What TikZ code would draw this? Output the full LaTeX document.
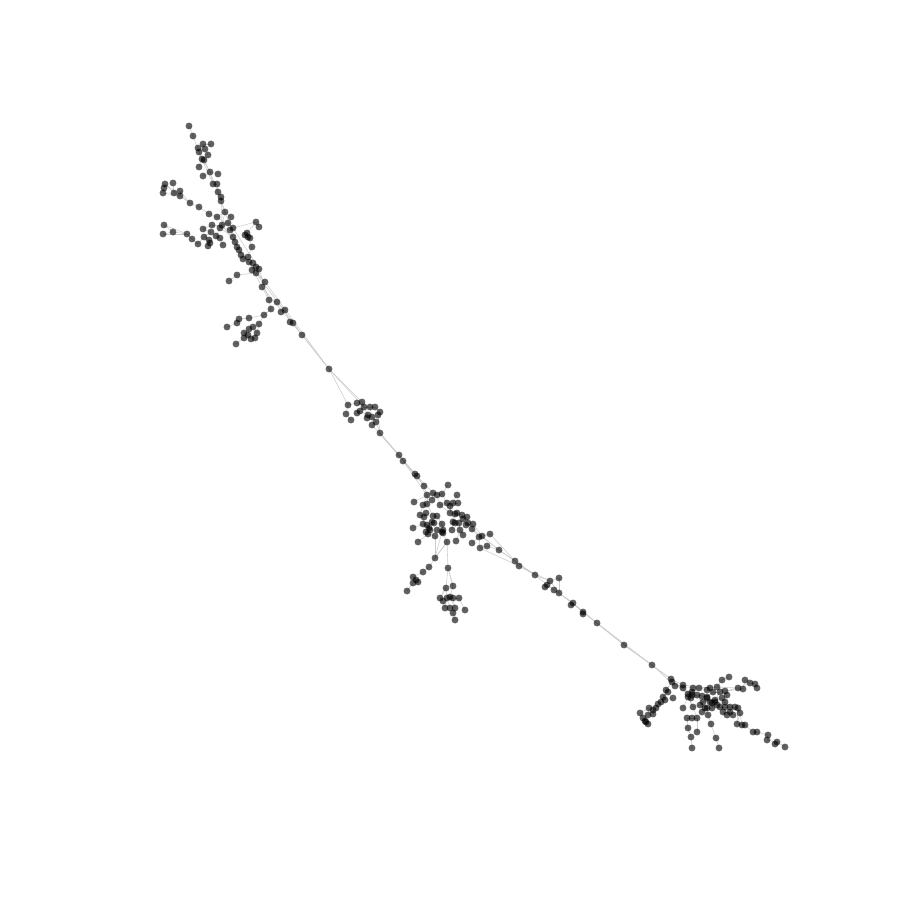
\documentclass[tikz,border=0pt]{standalone}
\tikzset{
  dot/.style={circle,inner sep=0pt,minimum size=6.9pt,fill=black,fill opacity=0.62,draw=none},
  edge/.style={draw=black!20,line width=0.55pt}
}
\def\nodelist{
189/126/t1/t1, 193/136/t2/t1, 199/152/t3/t2, 198/148/t4/t3, 203/144/t5/t3, 211/144/t6/t5,
205/149/t7/t3, 208/155/t8/t7, 202/159/t9/t3, 204/160/t10/t9, 199/167/t11/t9, 210/172/t12/t10,
218/174/t13/t12, 203/176/t14/t12, 213/184/t15/t12, 217/184/t16/t15, 218/192/t17/t16,
221/197/t18/t17, 221/201/t19/t18, 225/212/t20/t19, 217/217/t21/t20, 231/217/t22/t20,
222/225/t23/t20, 228/223/t24/t23, 233/228/t25/t24, 230/230/t26/t25, 233/237/t27/t26,
235/242/t28/t27, 237/247/t29/t28, 239/250/t30/t29, 241/255/t31/t30, 243/259/t32/t31,
249/262/t33/t32, 253/263/t34/t33, 256/267/t35/t34, 259/269/t36/t35, 252/270/t37/t35,
256/273/t38/t36, 265/282/t39/t38, 262/287/t40/t39, 248/257/t41/t32, 252/247/t42/t41,
248/237/t43/t42, 247/233/t44/t43, 245/235/t45/t43, 250/238/t46/t43, 256/222/t47/t44,
259/227/t48/t47,
209/214/t49/t21, 199/207/t50/t49, 190/203/t51/t50, 180/196/t52/t51, 180/191/t53/t52,
174/193/t54/t52, 173/183/t55/t54, 165/184/t56/t54, 164/188/t57/t56, 163/193/t58/t57,
212/225/t59/t23, 220/228/t60/t23, 203/229/t61/t59, 211/232/t62/t61, 204/237/t63/t62,
209/240/t64/t63, 210/243/t65/t64, 208/246/t66/t65, 198/244/t67/t63, 192/239/t68/t67,
187/234/t69/t68, 173/232/t70/t69, 164/225/t71/t70, 163/234/t72/t70, 216/236/t73/t60,
220/238/t74/t73, 223/245/t75/t74, 237/275/t76/t38, 229/281/t77/t76,
269/300/u2/t40, 277/302/u3/u2, 271/309/u4/u2, 281/312/u5/u3, 285/310/u6/u5,
264/315/u7/u4, 249/318/u8/u7, 239/319/u9/u8, 237/323/u10/u9, 227/327/u11/u10,
259/324/u12/u7, 253/327/u13/u12, 249/329/u14/u13, 244/333/u15/u14, 257/333/u16/u13,
248/335/u17/u14, 255/338/u18/u16, 244/338/u19/u17, 251/339/u20/u17, 236/344/u21/u19,
290/322/u22/u6, 293/323/u23/u22, 302/335/u24/u23, 329/369/m0/u24,
364/407/m1/m0, 357/403/m2/m1, 362/402/m3/m1, 348/405/m4/m2, 346/414/m5/m4,
351/420/m6/m5, 357/413/m7/m1, 360/411/m8/m7, 370/407/m9/m1, 375/407/m10/m9,
368/415/m11/m8, 367/418/m12/m11, 372/417/m13/m11, 380/412/m14/m10, 378/415/m15/m14,
376/422/m16/m13, 372/425/m17/m16, 380/433/m18/m16, 399/455/m19/m18, 403/461/m20/m19,
415/474/m21/m20, 417/476/m22/m21, 424/486/m23/m22,
427/495/c2/m23, 433/493/c3/c2, 437/495/c4/c3, 442/494/c5/c4, 448/485/c6/c5,
414/502/c7/c2, 423/505/c8/c2, 427/504/c9/c8, 440/505/c10/c4, 447/503/c11/c10,
450/506/c12/c11, 453/503/c13/c12, 457/495/c14/c13, 458/503/c15/c13, 420/515/c16/c8,
424/517/c17/c16, 426/513/c18/c17, 433/516/c19/c9, 437/516/c20/c19, 450/513/c21/c12,
455/514/c22/c21, 457/513/c23/c22, 462/515/c24/c23, 423/524/c25/c17, 427/525/c26/c25,
432/522/c27/c26, 434/523/c28/c27, 442/524/c29/c20, 453/522/c30/c22, 455/523/c31/c30,
459/523/c32/c31, 463/519/c33/c24, 467/517/c34/c33, 468/523/c35/c34, 413/528/c36/c25,
429/528/c37/c26, 437/530/c38/c29, 442/532/c39/c38, 443/530/c40/c29, 452/530/c41/c30,
460/530/c42/c32, 466/525/c43/c35, 473/524/c44/c43, 472/529/c45/c44, 479/537/c46/c45,
482/536/c47/c46, 490/534/c48/c47, 426/532/c49/c37, 428/534/c50/c49, 435/536/c51/c50,
443/533/c52/c39, 418/542/c53/c50, 447/542/c54/c52, 456/541/c55/c42, 463/535/c56/c42,
472/543/c57/c46, 480/548/c58/c46, 487/546/c59/c58, 499/550/c60/c59, 432/500/c61/c3,
430/530/c62/c26,
435/558/l1/c54, 429/567/l2/l1, 423/572/l3/l2, 413/577/l4/l3, 416/580/l5/l4,
413/583/l6/l5, 418/582/l7/l5, 407/591/l8/l6, 448/568/l9/c54, 446/588/l10/l9,
453/586/l11/l9, 440/598/l12/l10, 443/601/l13/l12, 447/598/l14/l10, 450/597/l15/l11,
453/598/l16/l15, 459/598/l17/l16, 445/608/l18/l13, 450/608/l19/l14, 455/608/l20/l16,
465/610/l21/l17, 453/613/l22/l20, 455/620/l23/l22,
515/561/r1/c60, 519/566/r2/r1, 535/575/r3/r2, 550/581/r4/r3, 547/585/r5/r4,
545/587/r6/r5, 559/578/r7/r4, 554/590/r8/r5, 559/593/r9/r8, 573/603/r10/r9,
571/605/r11/r10, 583/612/r12/r10, 583/614/r13/r12, 597/623/r14/r12, 624/645/r15/r14,
652/665/r16/r15, 671/679/r17/r16,
672/682/b1/r17, 675/686/b2/b1, 666/690/b3/b1, 668/692/b4/b3, 683/685/b5/b2,
683/688/b6/b5, 688/694/b7/b6, 692/692/b8/b7, 699/688/b9/b8, 707/690/b10/b9,
710/688/b11/b10, 717/687/b12/b11, 725/691/b13/b12, 727/695/b14/b13, 722/680/b15/b12,
729/677/b16/b15, 738/688/b17/b13, 743/689/b18/b17, 745/680/b19/b18, 750/683/b20/b19,
755/684/b21/b20, 757/688/b22/b21, 692/695/b23/b8, 697/695/b24/b23, 702/696/b25/b24,
707/697/b26/b25, 713/692/b27/b26, 663/697/b28/b4, 665/700/b29/b28, 673/698/b30/b29,
661/702/b31/b29, 658/704/b32/b31, 656/708/b33/b32, 653/710/b34/b33, 653/714/b35/b34,
649/708/b36/b34, 648/715/b37/b36, 640/713/b38/b36, 643/718/b39/b38, 645/721/b40/b39,
646/722/b41/b40, 648/724/b42/b41, 688/697/b43/b23, 691/698/b44/b43, 703/702/b45/b24,
707/698/b46/b45, 710/702/b47/b46, 702/712/b48/b45, 705/708/b49/b48, 683/708/b50/b43,
693/707/b51/b43, 700/705/b52/b51, 707/708/b53/b52, 697/718/b54/b51, 692/718/b55/b54,
687/718/b56/b54, 688/728/b57/b56, 697/732/b58/b54, 691/737/b59/b57, 692/748/b60/b59,
715/700/b61/b47, 720/692/b62/b61, 722/698/b63/b61, 725/702/b64/b63, 717/705/b65/b64,
720/707/b66/b65, 725/707/b67/b66, 730/707/b68/b67, 735/707/b69/b68, 738/708/b70/b69,
740/713/b71/b70, 730/712/b72/b68, 723/712/b73/b72, 727/715/b74/b73, 733/715/b75/b72,
712/703/b76/b47, 708/715/b77/b53, 711/724/b78/b77, 716/738/b79/b78, 719/748/b80/b79,
737/724/b81/b71, 742/725/b82/b81, 745/725/b83/b82, 753/732/b84/b83, 757/732/b85/b84,
768/735/b86/b85, 767/740/b87/b86, 777/742/b88/b87, 775/744/b89/b88, 785/747/b90/b88,
693/688/b91/b8, 715/702/b92/b76, 712/708/b93/b76}
\def\extraedges{t3/t12, t9/t15, t12/t20, t18/t23, t20/t30, t23/t33, t25/t36, t30/t39,
  t33/t40, t36/u2, t39/m0, t40/u24, t38/u24, t58/t52, t53/t51, t56/t51, t71/t69, t72/t69,
  t21/t25, t59/t26, t60/t27, t47/t25, u3/u6, u4/u7, u12/u16, u15/u20, u18/u20,
  u24/m0, m0/m4, m0/m3, m1/m11, m9/m13, m15/m18, m17/m21, m18/m22, m19/m23, m20/c2,
  m22/c3, c2/c9, c5/c11, c10/c21, c12/c30, c20/c29, c29/c40, c38/c52, c33/c43,
  c35/c45, c44/c47, c46/c48, c45/c60, c47/c60, c48/r1, c58/r2, c60/r3, r1/r3, r2/r4,
  r3/r8, r4/r9, r7/r9, r8/r10, r9/r12, r10/r14, r12/r15, r14/r16, r15/r17, r16/b2,
  r17/b5, b1/b6, b2/b9, b5/b11, b7/b24, b9/b12, b12/b17, b13/b18, b17/b20, b27/b62,
  b24/b45, b25/b47, b14/b64, b66/b72, b70/b81, b71/b82, b43/b51, b53/b93, b49/b53,
  b28/b31, b34/b36, b3/b28, b1/b7, b6/b23, b23/b45, b45/b61, b61/b68, b64/b71,
  l1/c54, c39/l1, c51/l1, l9/l11, l10/l12, l14/l18, l15/l20}
\begin{document}
\begin{tikzpicture}[x=1pt,y=-1pt]
\useasboundingbox[fill=white] (0,0) rectangle (900,900);
% positions of all nodes
\foreach \x/\y/\n/\p in \nodelist { \coordinate (\n) at (\x,\y); }
% connectors (tree edges, then extra edges)
\foreach \x/\y/\n/\p in \nodelist { \draw[edge] (\n) -- (\p); }
\foreach \a/\b in \extraedges { \draw[edge] (\a) -- (\b); }
% the dots
\foreach \x/\y/\n/\p in \nodelist { \node[dot] (d\n) at (\n) {}; }
\end{tikzpicture}
\end{document}
